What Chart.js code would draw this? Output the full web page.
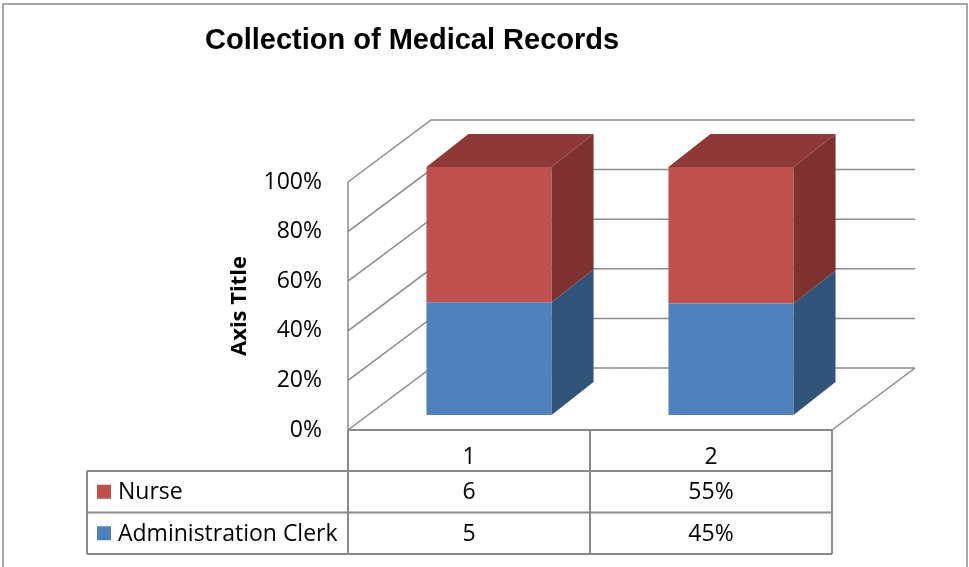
<!DOCTYPE html>
<html>
<head>
<meta charset="utf-8">
<title>Collection of Medical Records</title>
<script src="https://cdn.jsdelivr.net/npm/chart.js@4/dist/chart.umd.min.js"></script>
<style>
    html, body { margin: 0; padding: 0; background: #fff; }
    #wrap { width: 969px; height: 567px; }
</style>
</head>
<body>
<div id="wrap"><canvas id="recordsChart" width="969" height="567"></canvas></div>
<script>
// --- Data ---
const categories = ['1', '2'];
const nurseValues = [6, 0.55];
const clerkValues = [5, 0.45];
const nurseCells = ['6', '55%'];
const clerkCells = ['5', '45%'];
const tickLabels = ['0%', '20%', '40%', '60%', '80%', '100%'];

// 100% stacked: each column is its own share of the total
const share = (vals, i) => vals[i] / (nurseValues[i] + clerkValues[i]) * 100;
const nursePct = categories.map((c, i) => share(nurseValues, i));
const clerkPct = categories.map((c, i) => share(clerkValues, i));

// --- Look ---
const LINE = '#8a8a8a';
const WALL = { x: 83, y: -62 };       // depth of the 3D box
const SHIFT = { x: 20, y: -15 };      // bars sit inside the box
const BAR_DEPTH = { x: 42, y: -33 };
const textFont = '"Open Sans", sans-serif';

const series = [
    { label: 'Administration Clerk', data: clerkPct, cells: clerkCells, front: '#4F81BD', side: '#32537A', top: '#3F6A9C' },
    { label: 'Nurse', data: nursePct, cells: nurseCells, front: '#C0504D', side: '#7E312F', top: '#8E3937' }
];

// Helper for filled polygons
const poly = (ctx, pts, color) => {
    ctx.beginPath();
    ctx.moveTo(pts[0][0], pts[0][1]);
    pts.slice(1).forEach(p => ctx.lineTo(p[0], p[1]));
    ctx.closePath();
    ctx.fillStyle = color;
    ctx.fill();
};

const box3d = {
    id: 'box3d',
    beforeDraw(chart) {
        const ctx = chart.ctx;
        ctx.save();
        ctx.fillStyle = '#fff';
        ctx.fillRect(0, 0, chart.width, chart.height);
        ctx.strokeStyle = LINE;
        ctx.lineWidth = 1.5;
        ctx.strokeRect(3, 4, 964, 580);
        ctx.restore();
    },
    beforeDatasetsDraw(chart) {
        const { ctx, chartArea: a, scales: { y } } = chart;
        ctx.save();
        ctx.strokeStyle = LINE;
        ctx.lineWidth = 1.5;
        ctx.beginPath();
        // side wall diagonals + back wall gridlines
        y.ticks.forEach(t => {
            const py = y.getPixelForValue(t.value);
            ctx.moveTo(a.left, py);
            ctx.lineTo(a.left + WALL.x, py + WALL.y);
            ctx.lineTo(a.right + WALL.x, py + WALL.y);
        });
        // front axis and floor edge
        ctx.moveTo(a.left, a.top);
        ctx.lineTo(a.left, a.bottom);
        ctx.moveTo(a.right, a.bottom);
        ctx.lineTo(a.right + WALL.x, a.bottom + WALL.y);
        ctx.stroke();
        ctx.restore();

        // push the bars back into the box
        ctx.save();
        ctx.translate(SHIFT.x, SHIFT.y);
    },
    afterDatasetsDraw(chart) {
        const ctx = chart.ctx;
        series.forEach((s, di) => {
            chart.getDatasetMeta(di).data.forEach(bar => {
                const { x, y, base, width } = bar.getProps(['x', 'y', 'base', 'width'], true);
                const l = x - width / 2, r = x + width / 2;
                const top = Math.min(y, base), bot = Math.max(y, base);
                poly(ctx, [[r, top], [r + BAR_DEPTH.x, top + BAR_DEPTH.y], [r + BAR_DEPTH.x, bot + BAR_DEPTH.y], [r, bot]], s.side);
                if (di === series.length - 1) {
                    poly(ctx, [[l, top], [l + BAR_DEPTH.x, top + BAR_DEPTH.y], [r + BAR_DEPTH.x, top + BAR_DEPTH.y], [r, top]], s.top);
                }
            });
        });
        ctx.restore();
    },
    afterDraw(chart) {
        // --- Data table under the plot ---
        const { ctx, chartArea: a } = chart;
        const colW = (a.right - a.left) / categories.length;
        const headTop = a.bottom, headBot = a.bottom + 41;
        const rowH = 41.5;
        const keyLeft = 87;
        const rows = [series[1], series[0]];
        const tableBot = headBot + rowH * rows.length;

        ctx.save();
        ctx.strokeStyle = LINE;
        ctx.lineWidth = 2;
        ctx.beginPath();
        ctx.moveTo(a.left, headTop);
        ctx.lineTo(a.right, headTop);
        for (let r = 0; r <= rows.length; r++) {
            ctx.moveTo(keyLeft, headBot + r * rowH);
            ctx.lineTo(a.right, headBot + r * rowH);
        }
        for (let c = 0; c <= categories.length; c++) {
            ctx.moveTo(a.left + c * colW, headTop);
            ctx.lineTo(a.left + c * colW, tableBot);
        }
        ctx.moveTo(keyLeft, headBot);
        ctx.lineTo(keyLeft, tableBot);
        ctx.stroke();

        ctx.fillStyle = '#000';
        ctx.font = '23px ' + textFont;
        ctx.textAlign = 'center';
        ctx.textBaseline = 'middle';
        categories.forEach((c, i) => {
            ctx.fillText(c, a.left + (i + 0.5) * colW, headTop + 27);
        });
        rows.forEach((s, r) => {
            const cy = headBot + r * rowH + rowH / 2 + 1;
            s.cells.forEach((txt, i) => {
                ctx.fillStyle = '#000';
                ctx.textAlign = 'center';
                ctx.fillText(txt, a.left + (i + 0.5) * colW, cy);
            });
            ctx.fillStyle = s.front;
            ctx.fillRect(keyLeft + 10, cy - 8, 14, 14);
            ctx.fillStyle = '#000';
            ctx.textAlign = 'left';
            ctx.fillText(s.label, keyLeft + 31, cy);
        });
        ctx.restore();
    }
};

const ctx = document.getElementById('recordsChart').getContext('2d');
new Chart(ctx, {
    type: 'bar',
    data: {
        labels: categories,
        datasets: series.map(s => ({
            label: s.label,
            data: s.data,
            backgroundColor: s.front,
            borderWidth: 0,
            clip: false
        }))
    },
    options: {
        responsive: false,
        animation: false,
        events: [],
        categoryPercentage: 1,
        barPercentage: 0.517,
        layout: { padding: { left: 205, right: 137, top: 0, bottom: 137 } },
        scales: {
            x: { display: false, stacked: true },
            y: {
                stacked: true,
                min: 0,
                max: 100,
                grid: { display: false, drawTicks: false },
                border: { display: false },
                ticks: {
                    stepSize: 20,
                    padding: 26,
                    color: '#000',
                    font: { family: textFont, size: 23 },
                    callback: (v, i) => tickLabels[i]
                },
                title: {
                    display: true,
                    text: 'Axis Title',
                    color: '#000',
                    font: { family: textFont, size: 22, weight: 'bold' },
                    padding: { top: 22, bottom: 0 }
                },
                afterFit: scale => { scale.width = 143; }
            }
        },
        plugins: {
            legend: { display: false },
            tooltip: { enabled: false },
            title: {
                display: true,
                text: 'Collection of Medical Records',
                align: 'start',
                color: '#000',
                font: { family: '"Liberation Sans", Arial, sans-serif', size: 29, weight: 'bold' },
                padding: { top: 24, bottom: 123.2 }
            }
        }
    },
    plugins: [box3d]
});
</script>
</body>
</html>
